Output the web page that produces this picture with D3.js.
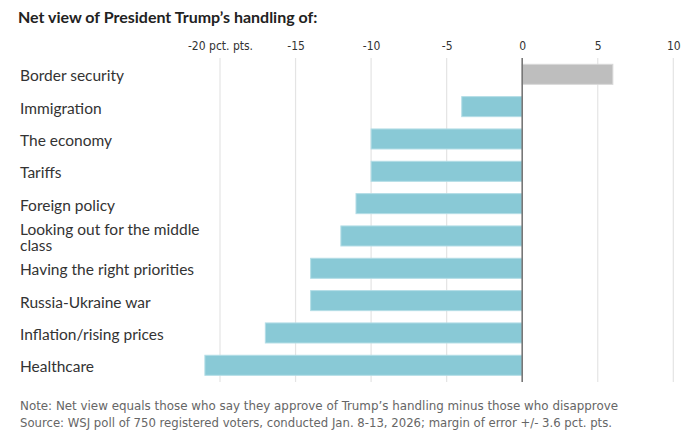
<!DOCTYPE html>
<html>
<head>
<meta charset="utf-8">
<script src="https://cdn.jsdelivr.net/npm/d3@7"></script>
<style>
  body { margin: 0; background: #fff; }
  svg { display: block; }
</style>
</head>
<body>
<svg id="chart"></svg>
<script>
const categories = ["Border security", "Immigration", "The economy", "Tariffs", "Foreign policy",
  "Looking out for the middle class", "Having the right priorities", "Russia-Ukraine war",
  "Inflation/rising prices", "Healthcare"];
const netValues = [6, -4, -10, -10, -11, -12, -14, -14, -17, -21];
const tickValues = [-20, -15, -10, -5, 0, 5, 10];
const tickLabels = ["-20 pct. pts.", "-15", "-10", "-5", "0", "5", "10"];

const width = 690, height = 442;
const narrow = "'DejaVu Sans Condensed', 'DejaVu Sans', sans-serif";
const svg = d3.select("#chart").attr("width", width).attr("height", height);

const x = d3.scaleLinear().domain([-20, 10]).range([220, 673.3]);
const y = d3.scaleBand().domain(categories).range([58.15, 381.45]).paddingInner(0.38).paddingOuter(0.19);

// title
svg.append("text")
  .attr("x", 18).attr("y", 23)
  .attr("font-family", "Lato").attr("font-weight", "bold").attr("font-size", 16)
  .attr("fill", "#222")
  .text("Net view of President Trump\u2019s handling of:");

// axis labels on top
const xAxis = d3.axisTop(x).tickValues(tickValues).tickSize(0)
  .tickFormat((d, i) => tickLabels[i]);
const gx = svg.append("g").attr("transform", "translate(0,53)").call(xAxis);
gx.select(".domain").remove();
gx.selectAll("text")
  .attr("font-family", narrow).attr("font-size", 12)
  .attr("fill", "#333").attr("dy", 0);

// grid
svg.append("g").selectAll("line").data(tickValues.filter(d => d !== 0)).join("line")
  .attr("x1", d => x(d)).attr("x2", d => x(d))
  .attr("y1", 58).attr("y2", 382)
  .attr("stroke", "#e4e4e4").attr("stroke-width", 1.2);

// bars
svg.append("g").selectAll("rect").data(categories).join("rect")
  .attr("x", (d, i) => x(Math.min(0, netValues[i])))
  .attr("y", d => y(d))
  .attr("width", (d, i) => Math.abs(x(netValues[i]) - x(0)))
  .attr("height", y.bandwidth())
  .attr("fill", (d, i) => netValues[i] > 0 ? "#bebebe" : "#89c9d6")
  .attr("stroke", (d, i) => netValues[i] > 0 ? "#d8d8d8" : "#b3dde6")
  .attr("stroke-width", 1);

// zero line
svg.append("line")
  .attr("x1", x(0)).attr("x2", x(0)).attr("y1", 58).attr("y2", 382)
  .attr("stroke", "#777").attr("stroke-width", 1.6);

// category labels
const labels = svg.append("g").selectAll("text").data(categories).join("text")
  .attr("x", 20)
  .attr("font-family", "Lato").attr("font-size", 15.5).attr("fill", "#333");
labels.each(function(d) {
  const t = d3.select(this);
  const cy = y(d) + y.bandwidth() / 2;
  if (d === "Looking out for the middle class") {
    t.append("tspan").attr("x", 20).attr("y", cy - 0.5).text("Looking out for the middle");
    t.append("tspan").attr("x", 20).attr("y", cy + 15).text("class");
  } else {
    t.attr("y", cy + 7).text(d);
  }
});

// notes
const notes = ["Note: Net view equals those who say they approve of Trump\u2019s handling minus those who disapprove",
  "Source: WSJ poll of 750 registered voters, conducted Jan. 8-13, 2026; margin of error +/- 3.6 pct. pts."];
const noteWidths = [598, 592];
svg.append("g").selectAll("text").data(notes).join("text")
  .attr("x", 20).attr("y", (d, i) => 410 + i * 17)
  .attr("font-family", narrow).attr("font-size", 13).attr("fill", "#666")
  .attr("textLength", (d, i) => noteWidths[i]).attr("lengthAdjust", "spacingAndGlyphs")
  .text(d => d);
</script>
</body>
</html>
